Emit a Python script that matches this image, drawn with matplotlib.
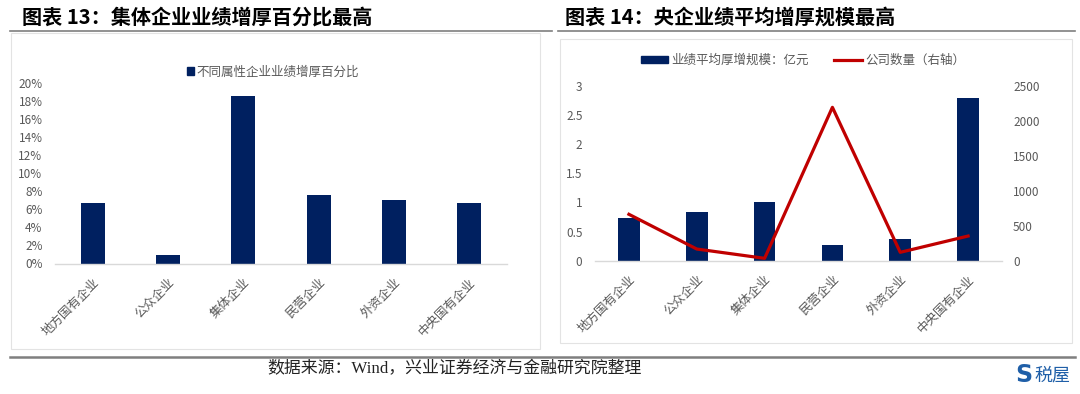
import matplotlib
matplotlib.use("Agg")
import matplotlib.pyplot as plt
from matplotlib.patches import Rectangle, Patch
from matplotlib.lines import Line2D
from matplotlib.ticker import PercentFormatter

plt.rcParams['font.family'] = ['Noto Sans CJK SC', 'DejaVu Sans']

# data
categories = ["地方国有企业", "公众企业", "集体企业", "民营企业", "外资企业", "中央国有企业"]
pct_growth = [0.0675, 0.0100, 0.1865, 0.0760, 0.0710, 0.0675]
avg_scale = [0.74, 0.83, 1.00, 0.27, 0.37, 2.80]
company_cnt = [664, 167, 34, 2195, 120, 353]

navy = "#002060"
red = "#C00000"
grey_txt = "#595959"
axis_grey = "#D9D9D9"

fig = plt.figure(figsize=(10.8, 3.94), dpi=100)
W, H = 1080, 394


def fx(px):
    return px / W


def fy(py):
    return 1 - py / H


# titles and rules
fig.text(fx(22), fy(17), "图表 13：集体企业业绩增厚百分比最高", fontsize=14.5, fontweight="bold",
         va="center", ha="left", color="black")
fig.text(fx(565), fy(17), "图表 14：央企业绩平均增厚规模最高", fontsize=14.5, fontweight="bold",
         va="center", ha="left", color="black")
fig.add_artist(Line2D([fx(10), fx(552)], [fy(31), fy(31)], color="#7f7f7f", lw=1.2))
fig.add_artist(Line2D([fx(558), fx(1075)], [fy(31), fy(31)], color="#7f7f7f", lw=1.2))

# chart boxes
fig.add_artist(Rectangle((fx(11), fy(349)), fx(540 - 11), (349 - 33) / H, fill=False,
                         ec="#E3E3E3", lw=0.8))
fig.add_artist(Rectangle((fx(560), fy(343)), fx(1072 - 560), (343 - 39) / H, fill=False,
                         ec="#E3E3E3", lw=0.8))

# footer
fig.add_artist(Line2D([fx(10), fx(1075)], [fy(357), fy(357)], color="#7f7f7f", lw=1.8))
fig.text(fx(455), fy(369), "数据来源：Wind，兴业证券经济与金融研究院整理", fontsize=12.2,
         ha="center", va="center", color="#222222",
         family=["Liberation Serif", "Noto Sans CJK SC"])
fig.text(fx(1032), fy(375), "S", fontsize=17, fontweight="heavy", color="#1f5fa8",
         ha="right", va="center", family="DejaVu Sans")
fig.text(fx(1034), fy(375), "税屋", fontsize=13, color="#1f5fa8", ha="left", va="center")


def style_axis(ax):
    for s in ["top", "right", "left"]:
        ax.spines[s].set_visible(False)
    ax.spines["bottom"].set_color(axis_grey)
    ax.spines["bottom"].set_linewidth(1.0)
    ax.tick_params(axis="both", length=0, colors=grey_txt)
    ax.set_xlim(-0.5, len(categories) - 0.5)
    ax.set_xticks(range(len(categories)))
    ax.set_xticklabels(categories, rotation=45, ha="right", va="top",
                       rotation_mode="anchor", fontsize=9, color=grey_txt)
    ax.tick_params(axis="x", pad=9)
    ax.set_facecolor("none")


# left chart
ax1 = fig.add_axes([fx(55), fy(263.5), fx(507 - 55), (263.5 - 83.5) / H])
ax1.bar(range(len(categories)), pct_growth, width=0.32, color=navy)
ax1.set_ylim(0, 0.20)
ax1.set_yticks([i / 100 for i in range(0, 21, 2)])
ax1.yaxis.set_major_formatter(PercentFormatter(1.0, decimals=0))
style_axis(ax1)
ax1.tick_params(axis="y", labelsize=8.5, pad=9)
ax1.legend(handles=[Patch(color=navy, label="不同属性企业业绩增厚百分比")],
           loc="center", bbox_to_anchor=(fx(273), fy(72)), bbox_transform=fig.transFigure,
           frameon=False, fontsize=9, handlelength=0.6, handleheight=0.6,
           handletextpad=0.2, labelcolor=grey_txt)

# right chart
ax2 = fig.add_axes([fx(595), fy(260.7), fx(1002 - 595), (260.7 - 86) / H])
ax2.bar(range(len(categories)), avg_scale, width=0.32, color=navy,
        label="业绩平均厚增规模：亿元")
ax2.set_ylim(0, 3)
ax2.set_yticks([0, 0.5, 1, 1.5, 2, 2.5, 3])
ax2.set_yticklabels(["0", "0.5", "1", "1.5", "2", "2.5", "3"])
style_axis(ax2)
ax2.tick_params(axis="y", labelsize=8.5, pad=9)

ax3 = ax2.twinx()
line, = ax3.plot(range(len(categories)), company_cnt, color=red, lw=2.3,
                 label="公司数量（右轴）")
ax3.set_ylim(0, 2500)
ax3.set_yticks(range(0, 2501, 500))
for s in ["top", "right", "left", "bottom"]:
    ax3.spines[s].set_visible(False)
ax3.tick_params(axis="y", length=0, colors=grey_txt, labelsize=8.5, pad=8)

fig.legend(handles=[Patch(color=navy, label="业绩平均厚增规模：亿元"), line],
           loc="center", bbox_to_anchor=(fx(803), fy(60)), ncol=2, frameon=False,
           fontsize=9, handlelength=2.2, handleheight=0.5, handletextpad=0.3,
           columnspacing=2.0, labelcolor=grey_txt)

fig.savefig("out.png", dpi=100, facecolor="white")
